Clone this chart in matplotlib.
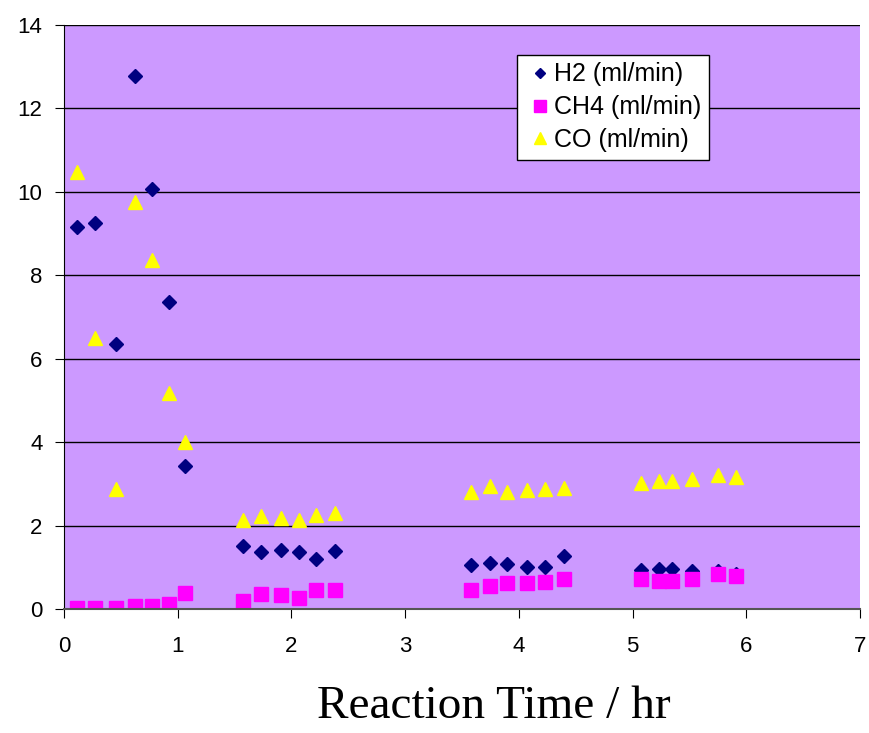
import matplotlib
matplotlib.use('Agg')
import matplotlib.pyplot as plt

# reaction time (hr)
time = [0.11, 0.27, 0.46, 0.62, 0.77, 0.92, 1.06,
        1.57, 1.73, 1.91, 2.07, 2.22, 2.38,
        3.58, 3.75, 3.90, 4.07, 4.23, 4.40,
        5.07, 5.23, 5.35, 5.52, 5.75, 5.91]

h2 = [9.15, 9.25, 6.35, 12.78, 10.08, 7.37, 3.43,
      1.52, 1.36, 1.42, 1.36, 1.19, 1.40,
      1.05, 1.10, 1.07, 1.00, 1.00, 1.26,
      0.93, 0.95, 0.97, 0.92, 0.90, 0.85]

ch4 = [0.02, 0.02, 0.02, 0.08, 0.08, 0.12, 0.38,
       0.20, 0.37, 0.33, 0.27, 0.45, 0.45,
       0.45, 0.55, 0.62, 0.62, 0.65, 0.72,
       0.72, 0.68, 0.68, 0.73, 0.85, 0.78]

co = [10.47, 6.50, 2.87, 9.76, 8.37, 5.17, 4.01,
      2.13, 2.23, 2.18, 2.13, 2.25, 2.30,
      2.80, 2.95, 2.80, 2.85, 2.88, 2.90,
      3.03, 3.06, 3.06, 3.12, 3.22, 3.17]

fig = plt.figure(figsize=(8.69, 7.33), dpi=100)
ax = fig.add_axes([64/869, 1 - 609/733, (860-64)/869, (609-25)/733])
ax.set_facecolor('#CC99FF')

ax.plot(time, h2, 'D', color='#000080', markersize=7, label='H2 (ml/min)', linestyle='none')
ax.plot(time, ch4, 's', color='#FF00FF', markersize=10, label='CH4 (ml/min)', linestyle='none')
ax.plot(time, co, '^', color='#FFFF00', markersize=10, label='CO (ml/min)', linestyle='none')

ax.set_xlim(0, 7)
ax.set_ylim(0, 14)
ax.set_xticks(range(0, 8))
ax.set_yticks(range(0, 15, 2))
ax.yaxis.grid(True, color='black', linewidth=1)
ax.set_axisbelow(True)
for s in ['top', 'right']:
    ax.spines[s].set_visible(False)
ax.spines['left'].set_color('black')
ax.spines['bottom'].set_color('#555555')
ax.spines['bottom'].set_linewidth(1.5)
ax.tick_params(labelsize=16, direction='out', length=6.5)
ax.tick_params(axis='y', pad=9)
ax.tick_params(axis='x', pad=13)
for lab in ax.get_xticklabels() + ax.get_yticklabels():
    lab.set_fontfamily('Liberation Sans')

ax.set_xlabel('Reaction Time / hr', fontsize=34, fontfamily='Liberation Serif', va='baseline')
ax.xaxis.set_label_coords((494-64)/(860-64), (609-718)/(609-25))

leg = ax.legend(loc='upper left', bbox_to_anchor=((517-64)/(860-64), 1 - (55-25)/(609-25)),
                prop={'family': 'Liberation Sans', 'size': 18}, fancybox=False,
                framealpha=1, edgecolor='black', handletextpad=0.0, handlelength=1.2,
                borderpad=0.3, labelspacing=0.35, markerscale=0.8, borderaxespad=0)
leg.get_frame().set_linewidth(1)

fig.savefig('out.png', dpi=100)
